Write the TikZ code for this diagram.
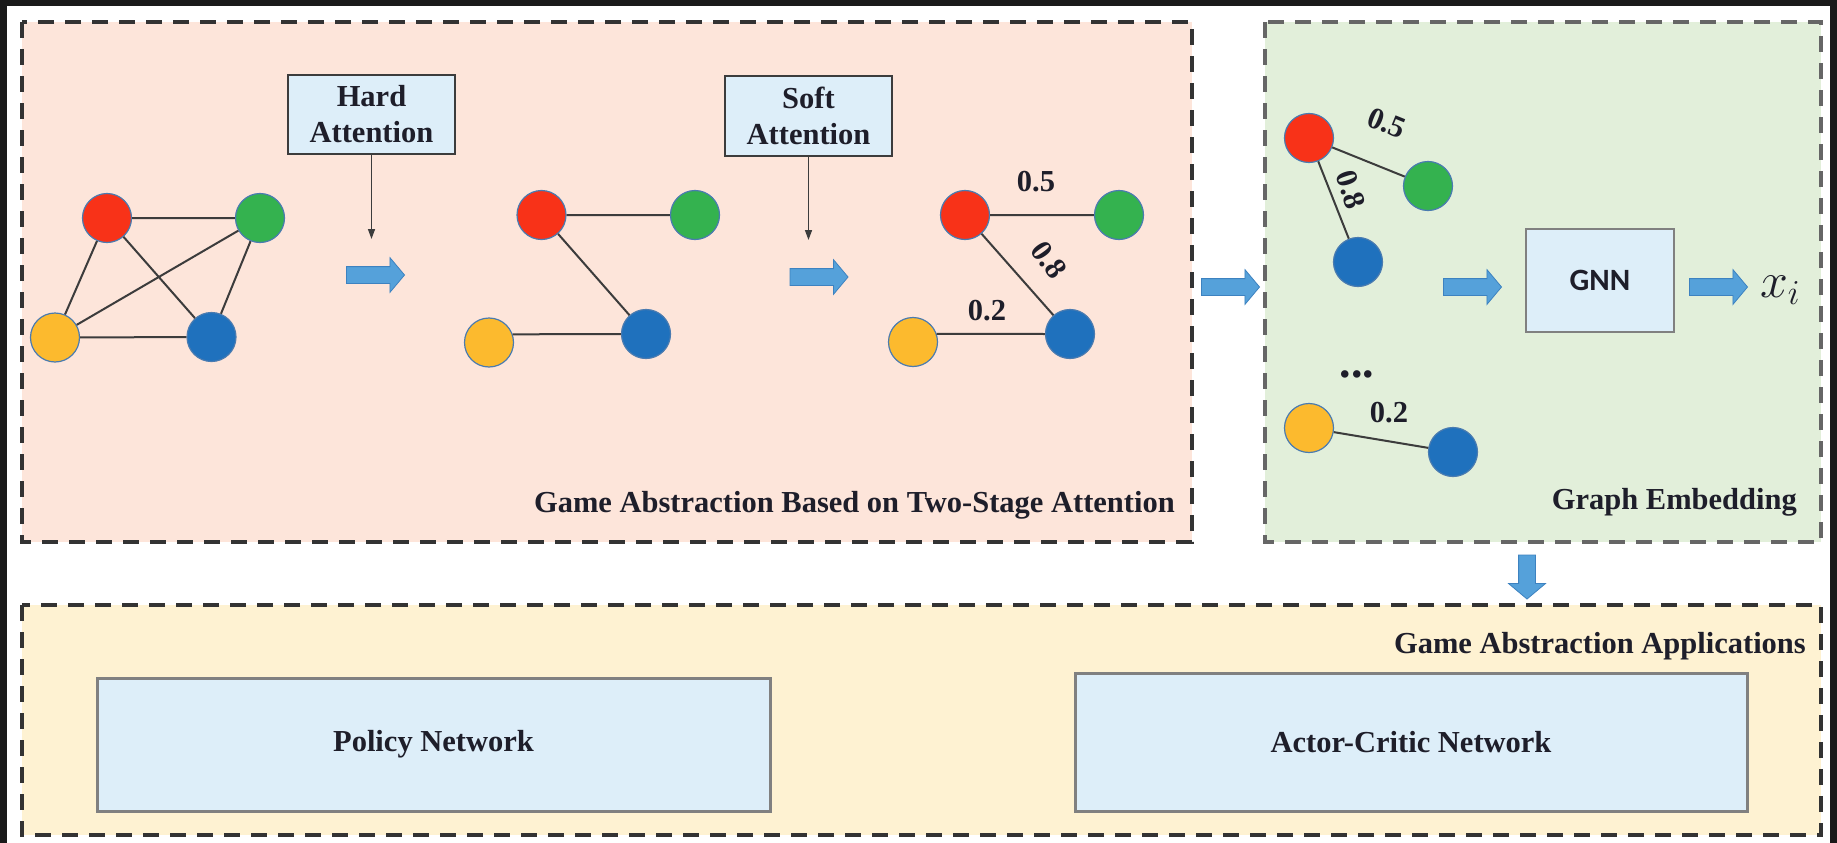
\RequirePackage{fix-cm}
\documentclass[tikz,border=0pt]{standalone}
\usepackage{fontspec}
\setmainfont{Liberation Serif}
\newfontfamily\gnnfont{Carlito}
\usetikzlibrary{shapes.arrows,arrows.meta}

\definecolor{framedark}{HTML}{1A1A1A}
\definecolor{pinkbg}{HTML}{FDE5DA}
\definecolor{greenbg}{HTML}{E2EFDA}
\definecolor{yellowbg}{HTML}{FEF2D2}
\definecolor{boxblue}{HTML}{DDEEF9}
\definecolor{darkdash}{HTML}{333333}
\definecolor{greydash}{HTML}{666666}
\definecolor{nred}{HTML}{F83218}
\definecolor{ngreen}{HTML}{34B24F}
\definecolor{nyellow}{HTML}{FCBA2E}
\definecolor{nblue}{HTML}{1F71BD}
\definecolor{nodeedge}{HTML}{4A7BB0}
\definecolor{edgegrey}{HTML}{3C3C3C}
\definecolor{arrowblue}{HTML}{55A1DA}
\definecolor{arrowedge}{HTML}{3D82C0}
\definecolor{textdark}{HTML}{1E1E2A}

\begin{document}
\begin{tikzpicture}[x=1pt,y=-1pt,
  panel/.style={dash pattern=on 16pt off 11pt, line width=3.5pt},
  gnode/.style={circle, minimum size=49pt, inner sep=0pt, draw=nodeedge, line width=1.2pt},
  gedge/.style={draw=edgegrey, line width=2pt},
  lbl/.style={font=\fontsize{30.5}{36}\selectfont\bfseries, text=textdark, inner sep=0pt},
  attbox/.style={lbl, draw=edgegrey, line width=2pt, fill=boxblue, align=center,
                 minimum width=167pt, minimum height=79pt},
  netbox/.style={lbl, draw=gray, line width=3pt, fill=boxblue},
  blockarrow/.style={single arrow, single arrow head extend=9pt, inner xsep=0pt, inner ysep=8pt,
                     minimum width=0pt, minimum height=58pt, single arrow tip angle=100,
                     fill=arrowblue, draw=arrowedge, line width=0.8pt},
  thinarrow/.style={draw=edgegrey, line width=1.5pt, -{Triangle[length=10pt,width=7pt]}}
]
\useasboundingbox (0,0) rectangle (1837,843);

% dark frame and white page
\fill[framedark] (0,0) rectangle (1837,843);
\fill[white] (7,6) rectangle (1830,843);

% panels
\filldraw[panel, draw=darkdash, fill=pinkbg] (22,22) rectangle (1192,542);
\filldraw[panel, draw=greydash, fill=greenbg] (1265,22) rectangle (1821,542);
\filldraw[panel, draw=darkdash, fill=yellowbg] (22,605) rectangle (1821,835);

% attention boxes
\node[attbox] (hard) at (371.5,114.5) {Hard\\Attention};
\node[attbox] (soft) at (808.5,116) {Soft\\Attention};
\coordinate (hardend) at (371.5,239);
\coordinate (softend) at (808.5,240);
\draw[thinarrow] (hard.south) -- (hardend);
\draw[thinarrow] (soft.south) -- (softend);

% full graph
\node[gnode, fill=nred] (a1) at (107,218) {};
\node[gnode, fill=ngreen] (b1) at (260,218) {};
\node[gnode, fill=nyellow] (c1) at (55,337.5) {};
\node[gnode, fill=nblue] (d1) at (211.5,337) {};
\draw[gedge] (a1) -- (b1) (a1) -- (c1) (a1) -- (d1) (b1) -- (c1) (b1) -- (d1) (c1) -- (d1);

% graph after hard attention
\node[gnode, fill=nred] (a2) at (541.5,215) {};
\node[gnode, fill=ngreen] (b2) at (695,215) {};
\node[gnode, fill=nyellow] (c2) at (489,342.5) {};
\node[gnode, fill=nblue] (d2) at (646,334) {};
\draw[gedge] (a2) -- (b2) (a2) -- (d2) (c2.19) -- (d2.west);

% weighted graph after soft attention
\node[gnode, fill=nred] (a3) at (965,215) {};
\node[gnode, fill=ngreen] (b3) at (1119,215) {};
\node[gnode, fill=nyellow] (c3) at (913,342) {};
\node[gnode, fill=nblue] (d3) at (1070,334) {};
\draw[gedge] (a3) -- (b3) (a3) -- (d3) (c3.19) -- (d3.west);
\node[lbl] (w1) at (1036,182) {0.5};
\node[lbl, rotate=-55] (w2) at (1049,260) {0.8};
\node[lbl] (w3) at (987,311) {0.2};

% block arrows
\node[blockarrow] (ar1) at (372,275) {};
\node[blockarrow] (ar2) at (815.5,277) {};
\node[blockarrow] (ar3) at (1227,287) {};
\node[blockarrow] (ar4) at (1469,287) {};
\node[blockarrow] (ar5) at (1715,287) {};
\node[blockarrow, minimum height=44pt, single arrow head extend=10pt, rotate=-90] (ar6) at (1527,573.5) {};

% sub-graphs for embedding
\node[gnode, fill=nred] (a4) at (1309,138) {};
\node[gnode, fill=ngreen] (b4) at (1428,186) {};
\node[gnode, fill=nblue] (d4) at (1358,262) {};
\draw[gedge] (a4) -- (b4) (a4) -- (d4);
\node[lbl, rotate=-22] (w4) at (1387,123) {0.5};
\node[lbl, rotate=-72] (w5) at (1351,190) {0.8};
\node[lbl, font=\fontsize{46}{46}\selectfont\bfseries, anchor=base] (dots) at (1357,377) {...};
\node[gnode, fill=nyellow] (c5) at (1309,428) {};
\node[gnode, fill=nblue] (d5) at (1453,452) {};
\draw[gedge] (c5) -- (d5);
\node[lbl] (w6) at (1389,413) {0.2};

% GNN and output
\node[draw=gray, line width=2.5pt, fill=boxblue, minimum width=148pt, minimum height=103pt,
      font=\gnnfont\fontsize{31}{31}\selectfont\bfseries, text=textdark] (gnn) at (1600,280.5) {GNN};
\node[text=textdark, inner sep=0pt] (xi) at (1780,290) {\fontsize{50}{50}\selectfont$x_i$};

% panel titles
\node[lbl, anchor=base east] (t1) at (1175,512) {Game Abstraction Based on Two-Stage Attention};
\node[lbl, anchor=base east] (t2) at (1797,509) {Graph Embedding};
\node[lbl, anchor=base east] (t3) at (1806,653) {Game Abstraction Applications};

% application networks
\node[netbox, minimum width=673pt, minimum height=133pt] (policy) at (433.5,744.5) {Policy Network};
\node[netbox, minimum width=672pt, minimum height=138pt] (actor) at (1411,742) {Actor-Critic Network};
\end{tikzpicture}
\end{document}
